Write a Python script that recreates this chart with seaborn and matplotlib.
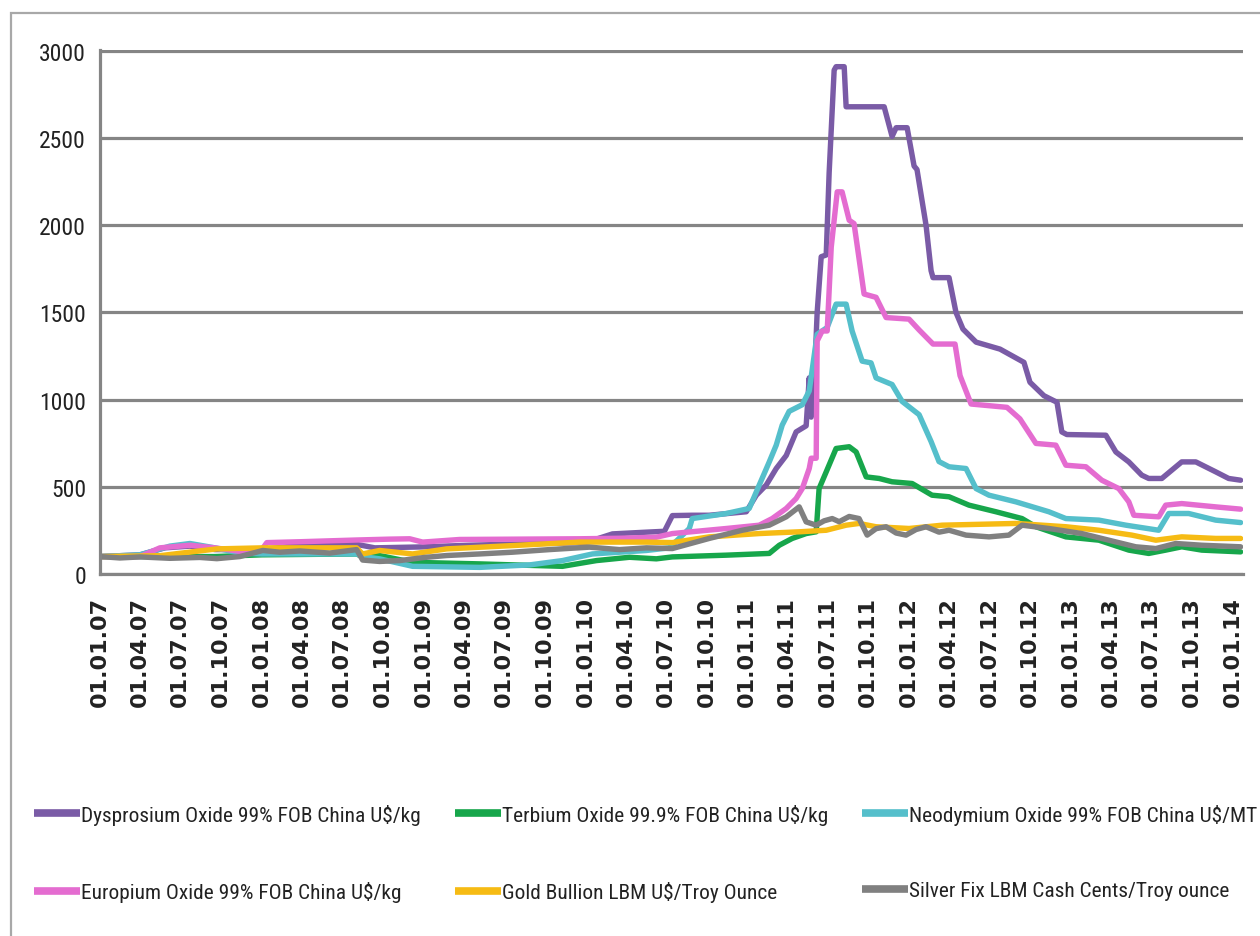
import numpy as np
import pandas as pd
import matplotlib
matplotlib.use("Agg")
import matplotlib.pyplot as plt
import matplotlib.dates as mdates
from matplotlib.patches import Rectangle
from matplotlib.lines import Line2D
from matplotlib import font_manager
import seaborn as sns

# ---------------- data (time in decimal years, value indexed) ----------------
series_names = [
    "Dysprosium Oxide 99% FOB China U$/kg",
    "Terbium Oxide 99.9% FOB China U$/kg",
    "Neodymium Oxide 99% FOB China U$/MT",
    "Europium Oxide 99% FOB China U$/kg",
    "Gold Bullion LBM U$/Troy Ounce",
    "Silver Fix LBM Cash Cents/Troy ounce",
]
series_colors = ["#7a5ba6", "#17a64b", "#55bfcb", "#e46cd0", "#f6bb14", "#808080"]

dy_t = [2007.000, 2007.247, 2007.401, 2007.556, 2007.710, 2008.000, 2008.235, 2008.586, 2008.698, 2008.975,
        2009.284, 2009.716, 2010.000, 2010.167, 2010.377, 2010.488, 2010.537, 2010.660, 2010.765, 2010.994,
        2011.056, 2011.117, 2011.179, 2011.241, 2011.302, 2011.364, 2011.383, 2011.395, 2011.414, 2011.432,
        2011.457, 2011.488, 2011.506, 2011.537, 2011.549, 2011.599, 2011.611, 2011.846, 2011.895, 2011.920,
        2011.988, 2012.031, 2012.049, 2012.105, 2012.136, 2012.148, 2012.247, 2012.290, 2012.333, 2012.414,
        2012.562, 2012.710, 2012.747, 2012.833, 2012.914, 2012.944, 2012.975, 2013.216, 2013.278, 2013.358,
        2013.438, 2013.481, 2013.562, 2013.685, 2013.772, 2013.895, 2013.975, 2014.049]
dy_v = [100, 110, 150, 160, 140, 140, 165, 170, 150, 155,
        165, 175, 180, 230, 240, 245, 335, 337, 337, 357,
        452, 510, 605, 680, 815, 850, 1125, 900, 1100, 1500,
        1820, 1830, 2300, 2890, 2910, 2910, 2680, 2680, 2510, 2560,
        2560, 2340, 2320, 2000, 1740, 1700, 1700, 1500, 1405, 1330,
        1290, 1214, 1100, 1023, 985, 815, 800, 796, 700, 643,
        567, 548, 548, 643, 643, 586, 548, 538]

tb_t = [2007.000, 2007.710, 2008.000, 2008.586, 2008.623, 2008.728, 2008.932, 2009.346, 2009.858, 2010.068,
        2010.272, 2010.438, 2010.537, 2010.870, 2011.136, 2011.198, 2011.278, 2011.364, 2011.426, 2011.444,
        2011.488, 2011.549, 2011.630, 2011.673, 2011.735, 2011.815, 2011.895, 2012.019, 2012.142, 2012.247,
        2012.370, 2012.537, 2012.698, 2012.784, 2012.969, 2013.173, 2013.358, 2013.481, 2013.586, 2013.685,
        2013.809, 2014.049]
tb_v = [100, 100, 110, 115, 100, 106, 67, 58, 44, 77,
        96, 87, 98, 108, 118, 165, 204, 232, 242, 490,
        586, 720, 730, 700, 557, 548, 529, 519, 452, 443,
        395, 357, 318, 271, 213, 194, 137, 118, 137, 156,
        137, 127]

nd_t = [2007.000, 2007.247, 2007.432, 2007.556, 2007.710, 2007.864, 2008.000, 2008.586, 2008.623, 2008.728,
        2008.932, 2009.346, 2009.654, 2009.858, 2010.043, 2010.377, 2010.519, 2010.642, 2010.660, 2010.870,
        2011.012, 2011.074, 2011.136, 2011.179, 2011.216, 2011.259, 2011.340, 2011.383, 2011.432, 2011.494,
        2011.549, 2011.611, 2011.648, 2011.710, 2011.765, 2011.796, 2011.895, 2011.957, 2012.062, 2012.136,
        2012.185, 2012.247, 2012.352, 2012.414, 2012.494, 2012.660, 2012.864, 2012.969, 2013.173, 2013.340,
        2013.543, 2013.605, 2013.728, 2013.895, 2014.049]
nd_v = [100, 110, 160, 175, 150, 120, 115, 115, 100, 87,
        44, 38, 52, 77, 115, 135, 150, 261, 318, 347,
        376, 510, 643, 739, 854, 933, 971, 1050, 1375, 1414,
        1548, 1548, 1394, 1221, 1211, 1125, 1087, 990, 914, 760,
        645, 615, 605, 490, 452, 414, 357, 318, 309, 280,
        251, 347, 347, 309, 295]

eu_t = [2007.000, 2007.247, 2007.370, 2007.556, 2007.710, 2007.864, 2008.000, 2008.031, 2008.235, 2008.586,
        2008.790, 2008.914, 2008.994, 2009.222, 2009.963, 2010.210, 2010.438, 2010.537, 2010.870, 2011.074,
        2011.154, 2011.241, 2011.302, 2011.340, 2011.383, 2011.395, 2011.426, 2011.432, 2011.463, 2011.494,
        2011.519, 2011.556, 2011.586, 2011.630, 2011.660, 2011.722, 2011.796, 2011.858, 2012.000, 2012.062,
        2012.148, 2012.284, 2012.315, 2012.383, 2012.605, 2012.685, 2012.784, 2012.907, 2012.969, 2013.093,
        2013.191, 2013.296, 2013.358, 2013.389, 2013.543, 2013.586, 2013.685, 2013.895, 2014.049]
eu_v = [100, 100, 150, 165, 150, 130, 140, 180, 185, 195,
        200, 202, 183, 198, 202, 205, 211, 232, 261, 280,
        318, 376, 433, 490, 605, 664, 664, 1337, 1394, 1394,
        1875, 2192, 2192, 2029, 2010, 1606, 1587, 1471, 1462, 1400,
        1319, 1319, 1138, 975, 956, 890, 749, 739, 624, 615,
        538, 490, 414, 337, 328, 395, 404, 385, 372]

au_t = [2007.000, 2007.370, 2007.722, 2008.006, 2008.586, 2008.623, 2008.728, 2008.932, 2009.142, 2009.549,
        2009.963, 2010.377, 2010.537, 2010.765, 2011.074, 2011.321, 2011.488, 2011.611, 2011.691, 2011.796,
        2012.000, 2012.204, 2012.660, 2012.969, 2013.173, 2013.377, 2013.525, 2013.685, 2013.895, 2014.049]
au_v = [100, 105, 144, 150, 150, 115, 135, 115, 144, 163,
        183, 183, 180, 213, 232, 242, 251, 280, 290, 271,
        261, 280, 290, 271, 251, 223, 194, 213, 204, 204]

ag_t = [2007.000, 2007.123, 2007.247, 2007.432, 2007.617, 2007.722, 2007.864, 2008.006, 2008.111, 2008.235,
        2008.420, 2008.586, 2008.623, 2008.728, 2008.852, 2009.006, 2009.142, 2009.346, 2009.549, 2009.778,
        2010.025, 2010.210, 2010.377, 2010.537, 2010.765, 2010.969, 2011.136, 2011.241, 2011.321, 2011.364,
        2011.426, 2011.475, 2011.525, 2011.568, 2011.630, 2011.691, 2011.741, 2011.796, 2011.858, 2011.920,
        2011.981, 2012.043, 2012.105, 2012.185, 2012.247, 2012.352, 2012.494, 2012.617, 2012.698, 2012.864,
        2013.068, 2013.278, 2013.401, 2013.525, 2013.648, 2013.809, 2014.049]
ag_v = [100, 92, 98, 90, 95, 88, 100, 135, 125, 132,
        120, 140, 80, 72, 77, 95, 106, 115, 125, 140,
        154, 140, 150, 146, 204, 251, 280, 328, 385, 299,
        280, 305, 318, 300, 330, 318, 223, 260, 271, 235,
        223, 255, 271, 240, 251, 223, 213, 223, 280, 261,
        232, 184, 156, 146, 175, 165, 156]

y_ticks = [0, 500, 1000, 1500, 2000, 2500, 3000]

# ---------------- build long frame ----------------
def to_dates(t):
    t = np.asarray(t, dtype=float)
    return pd.Timestamp("2007-01-01") + pd.to_timedelta((t - 2007.0) * 365.25, unit="D")

frames = []
for name, t, v in zip(series_names,
                      [dy_t, tb_t, nd_t, eu_t, au_t, ag_t],
                      [dy_v, tb_v, nd_v, eu_v, au_v, ag_v]):
    frames.append(pd.DataFrame({"date": to_dates(t), "value": v, "series": name}))
df = pd.concat(frames, ignore_index=True)

# ---------------- fonts: pick a condensed family if one exists ----------------
available = {f.name for f in font_manager.fontManager.ttflist}
cands = ["Roboto Condensed", "Liberation Sans Narrow", "DejaVu Sans Condensed",
         "Open Sans Condensed", "Noto Sans Condensed", "Lato"]
narrow_name = next((c for c in cands if c in available), "Liberation Sans")
narrow = [narrow_name, "DejaVu Sans"]
is_condensed = narrow_name != "Lato"

# ---------------- figure ----------------
sns.set_style("white")

fig = plt.figure(figsize=(12.6, 9.37), dpi=100)
W, H = 1260, 937
left, right = 100 / W, 1243 / W
top_px, bot_px = 50.6, 575
ax = fig.add_axes([left, 1 - bot_px / H, right - left, (bot_px - top_px) / H])

palette = dict(zip(series_names, series_colors))
sns.lineplot(data=df, x="date", y="value", hue="series", hue_order=series_names,
             palette=palette, estimator=None, sort=True, linewidth=3.9, ax=ax, legend=False)

ax.set_ylim(0, 3008)
ax.set_xlim(pd.Timestamp("2007-01-01"), pd.Timestamp("2014-01-24"))
ax.set_yticks(y_ticks)
ytick_size = 17 if is_condensed else 15
ax.set_yticklabels([str(v) for v in y_ticks], family=narrow, fontsize=ytick_size, color="#222222")
ax.xaxis.set_major_locator(mdates.MonthLocator(bymonth=[1, 4, 7, 10]))
ax.xaxis.set_major_formatter(mdates.DateFormatter("%d.%m.%y"))
for lab in ax.get_xticklabels():
    lab.set_rotation(90)
    lab.set_fontsize(16)
    lab.set_fontweight("bold")
    lab.set_color("#222222")
    lab.set_family(["DejaVu Sans"])
ax.set_xlabel("")
ax.set_ylabel("")

grid_col = "#858585"
ax.yaxis.grid(True, color=grid_col, linewidth=2.3)
ax.xaxis.grid(False)
ax.set_axisbelow(True)
for s in ["top", "right"]:
    ax.spines[s].set_visible(False)
for s in ["left", "bottom"]:
    ax.spines[s].set_visible(True)
    ax.spines[s].set_color(grid_col)
    ax.spines[s].set_linewidth(2.3)
ax.tick_params(axis="x", which="major", direction="out", length=7, width=2.3, color=grid_col, pad=9)
ax.tick_params(axis="y", which="major", direction="out", length=7, width=2.3, color=grid_col, pad=3)
ax.set_facecolor("white")

# outer chart-area border
fig.patches.append(Rectangle((11 / W, -0.05), 1.1, 1.05 - 14 / H, transform=fig.transFigure,
                             fill=False, edgecolor="#a8a8a8", linewidth=1.6, zorder=0))

# legend (row-major like the original: reorder for column filling)
leg_size = 15.4 if is_condensed else 13.5
em = leg_size * 100 / 72
handles = [Line2D([0], [0], color=c, linewidth=5.5, solid_capstyle="butt") for c in series_colors]
order = [0, 3, 1, 4, 2, 5]
leg = fig.legend([handles[i] for i in order], [series_names[i] for i in order],
                 ncol=3, loc="center left", bbox_to_anchor=(34 / W, 1 - 854 / H),
                 frameon=False, prop={"family": narrow, "size": leg_size},
                 handlelength=46 / em, handletextpad=0.05, columnspacing=34 / em,
                 labelspacing=(78 - em) / em,
                 borderpad=0, borderaxespad=0)
for t in leg.get_texts():
    t.set_color("#222222")

fig.savefig("out.png", dpi=100)
